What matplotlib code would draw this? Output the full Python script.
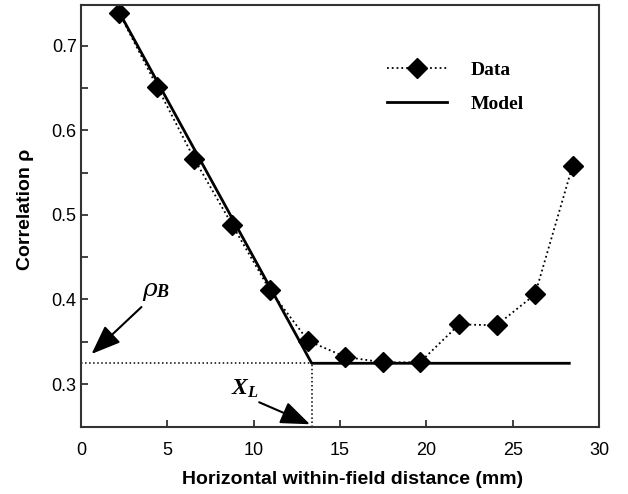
import matplotlib
matplotlib.use("Agg")
import matplotlib.pyplot as plt

# ---- data ----
dist_mm = [2.2, 4.42, 6.56, 8.76, 10.94, 13.16, 15.31, 17.5, 19.63, 21.9, 24.07, 26.3, 28.47]
corr = [0.739, 0.651, 0.566, 0.488, 0.411, 0.351, 0.332, 0.3256, 0.3256, 0.3705, 0.3694, 0.406, 0.558]
model_x = [2.2, 13.36, 28.28]
model_y = [0.740, 0.3245, 0.3245]
rho_B = 0.3245
X_L = 13.36
x_ticks = [0, 5, 10, 15, 20, 25, 30]
y_ticks = [0.3, 0.4, 0.5, 0.6, 0.7]
y_minor = [0.35, 0.45, 0.55, 0.65]

plt.rcParams['mathtext.fontset'] = 'custom'
plt.rcParams['mathtext.it'] = 'Liberation Serif:bold:italic'
plt.rcParams['mathtext.rm'] = 'Liberation Serif:bold:italic'
plt.rcParams['mathtext.bf'] = 'Liberation Serif:bold:italic'

fig = plt.figure(figsize=(6.28, 4.94), dpi=100)
ax = fig.add_axes([0.129, 0.135, 0.8248, 0.8549])

ax.plot(dist_mm, corr, linestyle=':', color='black', lw=1.3, marker='D',
        markersize=10, markerfacecolor='black', markeredgecolor='black', label='Data')
ax.plot(model_x, model_y, linestyle='-', color='black', lw=2.0, label='Model')

# reference dotted lines
ax.plot([0, X_L], [rho_B, rho_B], linestyle=':', color='black', lw=1.1)
ax.plot([X_L, X_L], [0.2488, rho_B], linestyle=':', color='black', lw=1.1)

ax.set_xlim(0, 30)
ax.set_ylim(0.2488, 0.7481)
ax.set_xticks(x_ticks)
ax.set_xticklabels([str(t) for t in x_ticks])
ax.set_yticks(y_ticks)
ax.set_yticklabels([f"{t:.1f}" for t in y_ticks])
ax.set_yticks(y_minor, minor=True)

for lab in ax.get_xticklabels() + ax.get_yticklabels():
    lab.set_fontfamily('Liberation Sans')
    lab.set_fontsize(13)

ax.tick_params(axis='x', which='major', direction='in', length=5, width=1.2, pad=10.3,
               top=False, colors='#222222', labelcolor='black')
ax.tick_params(axis='y', which='both', direction='in', length=5, width=1.2, pad=3.1,
               right=False, colors='#222222', labelcolor='black')

for s in ax.spines.values():
    s.set_linewidth(1.5)
    s.set_color('#333333')

ax.set_xlabel('Horizontal within-field distance (mm)', family='Liberation Sans',
              fontweight='bold', fontsize=14)
ax.set_ylabel('Correlation ρ', family='Liberation Sans', fontweight='bold', fontsize=14)
ax.xaxis.set_label_coords(0.524, -0.104)
ax.yaxis.set_label_coords(-0.0917, 0.515)

leg = ax.legend(loc='center', bbox_to_anchor=(0.722, 0.806), frameon=False,
                prop=dict(family='Liberation Serif', weight='bold', size=14),
                handlelength=3.1, handletextpad=1.2, labelspacing=0.85)

# annotations
t_rho = ax.text(3.95, 0.412, 'ρ', family='DejaVu Serif', style='italic',
                fontsize=18, ha='center', va='center')
ax.annotate('B', xy=(1.0, 0.0), xycoords=t_rho, xytext=(0, 0), textcoords='offset points',
            family='Liberation Serif', weight='bold', style='italic', fontsize=13,
            ha='left', va='bottom')
ax.text(9.5, 0.2953, r'$X_L$', fontsize=17, ha='center', va='center')
arrow = dict(arrowstyle='-|>,head_length=0.9,head_width=0.35', color='black', lw=1.5,
             mutation_scale=20, shrinkA=0, shrinkB=0)
ax.annotate('', xy=(0.61, 0.3355), xytext=(3.50, 0.391), arrowprops=arrow)
ax.annotate('', xy=(13.26, 0.2524), xytext=(10.32, 0.2784), arrowprops=arrow)

fig.savefig('out.png', dpi=100)
